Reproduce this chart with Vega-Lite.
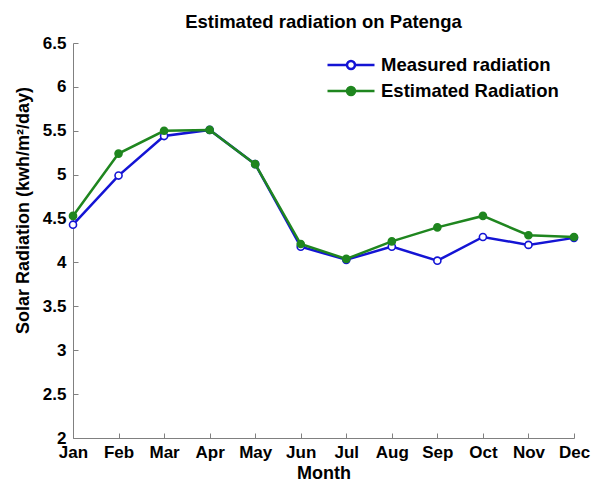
{
  "$schema": "https://vega.github.io/schema/vega-lite/v6.json",
  "width": 501,
  "height": 395,
  "autosize": {"type": "none"},
  "padding": {"left": 73, "top": 43, "right": 27, "bottom": 46},
  "background": "white",
  "config": {
    "view": {"stroke": null},
    "font": "Liberation Sans",
    "legend": {
      "orient": "none",
      "legendX": 253,
      "legendY": 9,
      "padding": 0,
      "rowPadding": 0,
      "symbolType": "M-1,0L-0.17,0M0.17,0L1,0M-0.17,0A0.17,0.17,0,1,1,0.17,0A0.17,0.17,0,1,1,-0.17,0",
      "symbolSize": 2209,
      "symbolStrokeWidth": 2.5,
      "clipHeight": 26,
      "labelFontSize": 18.5,
      "labelFontWeight": "bold",
      "labelColor": "black",
      "labelOffset": 5,
      "labelLimit": 400,
      "labelFont": "Liberation Sans"
    }
  },
  "title": {
    "text": "Estimated radiation on Patenga",
    "font": "Liberation Sans",
    "fontSize": 18.5,
    "fontWeight": "bold",
    "color": "black",
    "anchor": "middle",
    "baseline": "alphabetic",
    "offset": 16,
    "dy": 28
  },
  "data": {
    "values": [
      {"month": "Jan", "series": "Measured radiation", "value": 4.43},
      {"month": "Feb", "series": "Measured radiation", "value": 4.99},
      {"month": "Mar", "series": "Measured radiation", "value": 5.44},
      {"month": "Apr", "series": "Measured radiation", "value": 5.51},
      {"month": "May", "series": "Measured radiation", "value": 5.12},
      {"month": "Jun", "series": "Measured radiation", "value": 4.18},
      {"month": "Jul", "series": "Measured radiation", "value": 4.03},
      {"month": "Aug", "series": "Measured radiation", "value": 4.18},
      {"month": "Sep", "series": "Measured radiation", "value": 4.02},
      {"month": "Oct", "series": "Measured radiation", "value": 4.29},
      {"month": "Nov", "series": "Measured radiation", "value": 4.20},
      {"month": "Dec", "series": "Measured radiation", "value": 4.28},
      {"month": "Jan", "series": "Estimated Radiation", "value": 4.53},
      {"month": "Feb", "series": "Estimated Radiation", "value": 5.24},
      {"month": "Mar", "series": "Estimated Radiation", "value": 5.50},
      {"month": "Apr", "series": "Estimated Radiation", "value": 5.51},
      {"month": "May", "series": "Estimated Radiation", "value": 5.12},
      {"month": "Jun", "series": "Estimated Radiation", "value": 4.21},
      {"month": "Jul", "series": "Estimated Radiation", "value": 4.04},
      {"month": "Aug", "series": "Estimated Radiation", "value": 4.24},
      {"month": "Sep", "series": "Estimated Radiation", "value": 4.40},
      {"month": "Oct", "series": "Estimated Radiation", "value": 4.53},
      {"month": "Nov", "series": "Estimated Radiation", "value": 4.31},
      {"month": "Dec", "series": "Estimated Radiation", "value": 4.29}
    ]
  },
  "encoding": {
    "x": {
      "field": "month",
      "type": "ordinal",
      "sort": ["Jan", "Feb", "Mar", "Apr", "May", "Jun", "Jul", "Aug", "Sep", "Oct", "Nov", "Dec"],
      "scale": {"type": "point", "padding": 0},
      "axis": {
        "title": "Month",
        "labelAngle": 0,
        "grid": false,
        "domainColor": "#808080",
        "tickColor": "#808080",
        "tickSize": -5,
        "labelPadding": 11,
        "labelFontSize": 17,
        "labelFontWeight": "bold",
        "labelColor": "black",
        "labelFlush": false,
        "labelOverlap": false,
        "titleFontSize": 18,
        "titleFontWeight": "bold",
        "titleColor": "black",
        "titleY": 40,
        "titleBaseline": "alphabetic"
      }
    },
    "y": {
      "field": "value",
      "type": "quantitative",
      "scale": {"domain": [2, 6.5], "nice": false, "zero": false},
      "axis": {
        "title": "Solar Radiation (kwh/m²/day)",
        "values": [2, 2.5, 3, 3.5, 4, 4.5, 5, 5.5, 6, 6.5],
        "format": "~g",
        "grid": false,
        "domainColor": "#808080",
        "tickColor": "#808080",
        "tickSize": -5,
        "labelPadding": 12,
        "labelFontSize": 17,
        "labelFontWeight": "bold",
        "labelColor": "black",
        "labelFlush": false,
        "labelOverlap": false,
        "titleFontSize": 18,
        "titleFontWeight": "bold",
        "titleColor": "black",
        "titleX": -45,
        "titleY": 167,
        "titleAngle": -90,
        "titleAlign": "center",
        "titleBaseline": "alphabetic"
      }
    },
    "color": {
      "field": "series",
      "type": "nominal",
      "scale": {"domain": ["Measured radiation", "Estimated Radiation"], "range": ["#1414d4", "#1f861f"]},
      "legend": {"title": null}
    }
  },
  "layer": [
    {
      "transform": [{"filter": "datum.series === 'Measured radiation'"}],
      "mark": {"type": "line", "strokeWidth": 2.5}
    },
    {
      "transform": [{"filter": "datum.series === 'Measured radiation'"}],
      "mark": {"type": "point", "shape": "circle", "size": 50, "strokeWidth": 1.6, "opacity": 1, "filled": false},
      "encoding": {
        "fill": {
          "field": "series",
          "type": "nominal",
          "scale": {"domain": ["Measured radiation", "Estimated Radiation"], "range": ["white", "#1f861f"]},
          "legend": {"title": null}
        }
      }
    },
    {
      "transform": [{"filter": "datum.series === 'Estimated Radiation'"}],
      "mark": {"type": "line", "strokeWidth": 2.5}
    },
    {
      "transform": [{"filter": "datum.series === 'Estimated Radiation'"}],
      "mark": {"type": "point", "shape": "circle", "size": 50, "strokeWidth": 1.6, "opacity": 1, "filled": false},
      "encoding": {
        "fill": {
          "field": "series",
          "type": "nominal",
          "scale": {"domain": ["Measured radiation", "Estimated Radiation"], "range": ["white", "#1f861f"]},
          "legend": {"title": null}
        }
      }
    }
  ]
}
